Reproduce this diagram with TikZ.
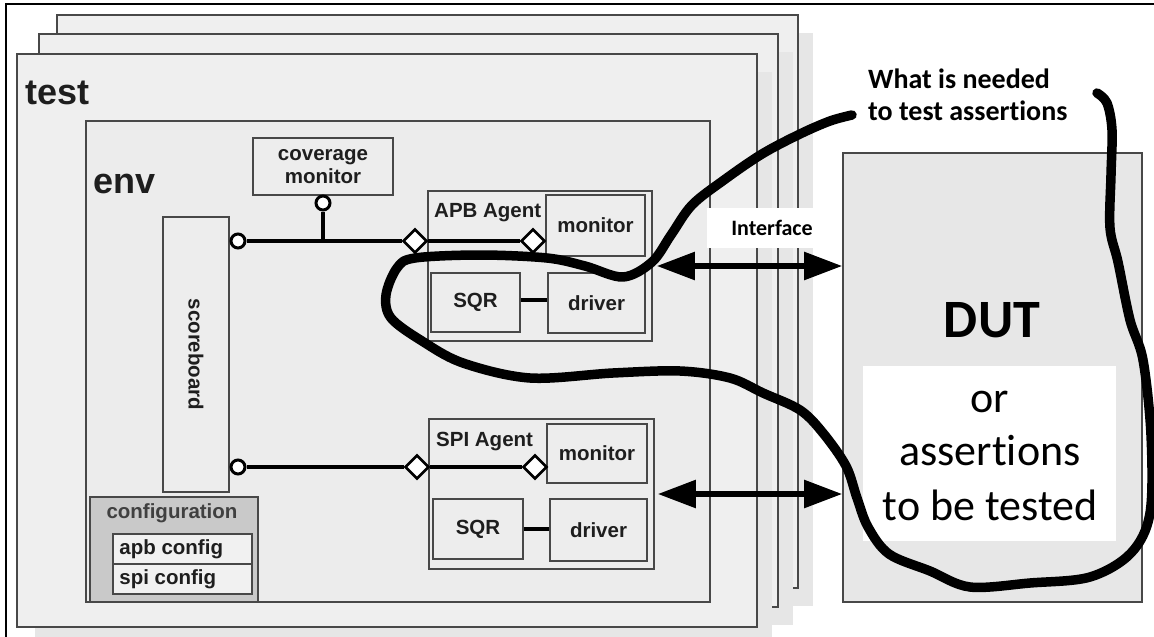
\documentclass[tikz,border=0pt]{standalone}
\usepackage{fontspec}
\setmainfont{Liberation Sans}
\newfontfamily\calib[Ligatures=NoCommon]{Carlito}
\usetikzlibrary{arrows.meta,shapes.geometric,fit}
\definecolor{edge}{HTML}{484848}
\definecolor{panelfill}{HTML}{EFEFEF}
\definecolor{envfill}{HTML}{ECECEC}
\definecolor{boxfill}{HTML}{EDEDED}
\definecolor{shade}{HTML}{E6E6E6}
\definecolor{cfgfill}{HTML}{C9C9C9}
\definecolor{cfgitem}{HTML}{F1F1F1}
\definecolor{dutfill}{HTML}{E7E7E7}
\definecolor{ink}{HTML}{1E1E1E}
\begin{document}
\begin{tikzpicture}[x=1pt,y=-1pt,
  panel/.style={draw=edge, line width=1.8pt, fill=panelfill, inner sep=0pt},
  shadowbox/.style={fill=shade, draw=none, inner sep=0pt},
  box/.style={draw=edge, line width=1.6pt, fill=boxfill, inner sep=0pt},
  lbl/.style={font=\fontsize{20.5}{23}\selectfont\bfseries, text=ink, inner sep=0pt},
  big/.style={font=\fontsize{36}{40}\selectfont\bfseries, text=ink, inner sep=0pt, anchor=base west},
  port/.style={circle, draw=black, line width=3pt, fill=white, minimum size=14pt, inner sep=0pt},
  dport/.style={diamond, draw=black, line width=2.6pt, fill=white, minimum size=24pt, inner sep=0pt},
  bus/.style={draw=black, line width=3.2pt},
  link/.style={draw=black, line width=3.2pt},
  bigarrow/.style={line width=5.5pt, {Triangle[length=38pt,width=27pt]}-{Triangle[length=38pt,width=27pt]}},
  note/.style={font=\calib\fontsize{28}{32}\selectfont\bfseries, inner sep=0pt, anchor=base west},
  dutline/.style={font=\calib\fontsize{44}{50}\selectfont, inner sep=0pt, anchor=base},
  scribble/.style={line width=9.5pt, line cap=round, line join=round}]

% page and frame
\fill[white] (0,0) rectangle (1154,637);
\useasboundingbox (0,0) rectangle (1154,637);
\draw[line width=2.4pt] (6,637) -- (6,4) -- (1154,4);

% stacked test panels with their drop shadows
\node[shadowbox, fit={(72,33)(813,606)}] (back2s) {};
\node[panel, fit={(57,15)(798,588)}] (back2) {};
\node[shadowbox, fit={(54,52)(793,625)}] (back1s) {};
\node[panel, fit={(39,34)(778,607)}] (back1) {};
\node[shadowbox, fit={(35,72)(772,645)}] (tests) {};
\node[panel, fit={(17,54)(757,627)}] (test) {};
\node[big] (testlbl) at (25,104) {test};

% environment
\node[panel, fill=envfill, fit={(86,121)(710,602)}] (env) {};
\node[big] (envlbl) at (93,193) {env};

% coverage monitor
\node[box, fit={(253,138)(393,195)}] (cov) {};
\node[lbl, align=center] (covlbl) at (cov.center) {coverage\\monitor};

% scoreboard
\node[box, fit={(163,217)(229,492)}] (sb) {};
\node[lbl, rotate=-90] (sblbl) at (sb.center) {scoreboard};

% configuration
\node[box, fill=cfgfill, fit={(90,497)(258,602)}] (cfg) {};
\node[lbl, text=black!75] (cfglbl) at (172,513) {configuration};
\node[box, fill=cfgitem, fit={(113,534)(252,564)}] (apbcfg) {};
\node[lbl, anchor=west] (apbcfglbl) at ([xshift=7pt]apbcfg.west) {apb config};
\node[box, fill=cfgitem, fit={(113,564)(252,594)}] (spicfg) {};
\node[lbl, anchor=west] (spicfglbl) at ([xshift=7pt]spicfg.west) {spi config};

% APB agent
\node[box, fit={(428,191)(652,341)}] (apb) {};
\node[lbl, anchor=west] (apblbl) at (434,213) {APB Agent};
\node[box, fit={(546,195)(645,256)}] (apbmon) {};
\node[lbl] at (apbmon.center) {monitor};
\node[box, fit={(431,273)(520,332)}] (apbsqr) {};
\node[lbl] at (apbsqr.center) {SQR};
\node[box, fit={(548,273)(645,333)}] (apbdrv) {};
\node[lbl] at (apbdrv.center) {driver};
\draw[link] (apbsqr.east |- 0,300) -- (apbdrv.west |- 0,300);

% SPI agent
\node[box, fit={(429,419)(654,569)}] (spi) {};
\node[lbl, anchor=west] (spilbl) at (436,442) {SPI Agent};
\node[box, fit={(547,424)(647,483)}] (spimon) {};
\node[lbl] at (spimon.center) {monitor};
\node[box, fit={(433,499)(523,559)}] (spisqr) {};
\node[lbl] at (spisqr.center) {SQR};
\node[box, fit={(550,499)(647,561)}] (spidrv) {};
\node[lbl] at (spidrv.center) {driver};
\draw[link] (spisqr.east |- 0,529) -- (spidrv.west |- 0,529);

% analysis ports and buses
\node[port] (covp) at (323,203) {};
\node[port] (sbp1) at (238,241) {};
\node[dport] (apbp) at (415,241) {};
\node[dport] (apbmp) at (533,241) {};
\coordinate (tap) at (323,241);
\draw[bus] (sbp1.east) -- (apbp.west);
\draw[bus] (apbp.east) -- (apbmp.west);
\draw[bus] (covp.south) -- (tap);

\node[port] (sbp2) at (238,467) {};
\node[dport] (spip) at (417,467) {};
\node[dport] (spimp) at (535,467) {};
\draw[bus] (sbp2.east) -- (spip.west);
\draw[bus] (spip.east) -- (spimp.west);

% device under test
\node[box, fill=dutfill, fit={(843,153)(1142,602)}] (dut) {};
\node[font=\calib\fontsize{54}{60}\selectfont\bfseries, inner sep=0pt] (dutlbl) at (992,320) {DUT};
\node[fill=white, inner sep=0pt, fit={(863,366)(1116,541)}] (dutnote) {};
\node[dutline] (or) at (990,412) {or};
\node[dutline] (asrt) at (990,465) {assertions};
\node[dutline] (tbt) at (990,520) {to be tested};

% interfaces
\draw[bigarrow, shorten <=4pt] (apb.east) -- (apb.east -| dut.west);
\draw[bigarrow, shorten <=3pt] (spi.east) -- (spi.east -| dut.west);
\node[fill=white, minimum width=130pt, minimum height=40pt, inner sep=0pt,
      font=\calib\fontsize{22}{24}\selectfont\bfseries] (iface) at (772,228) {Interface};

% annotation
\node[note] (need1) at (868,88) {What is needed};
\node[note] (need2) at (868,120) {to test assertions};
\draw[scribble] plot[smooth, tension=0.55] coordinates {
  (1097,93) (1107,103) (1112,130) (1111,175) (1110,228) (1118,262)
  (1130,320) (1143,360) (1151,435) (1150,513) (1131,553) (1090,577)
  (1030,583) (970,587) (930,571) (889,554) (868,527) (857,498)
  (846,466) (823,433) (800,410) (763,393) (730,378) (680,371)
  (613,373) (530,378) (463,363) (422,341) (391,318) (386,295)
  (397,268) (415,258) (480,255) (547,258) (585,266) (623,277)
  (652,262) (671,235) (692,205) (724,180) (762,154) (800,134)
  (830,121) (852,115)};
\end{tikzpicture}
\end{document}
